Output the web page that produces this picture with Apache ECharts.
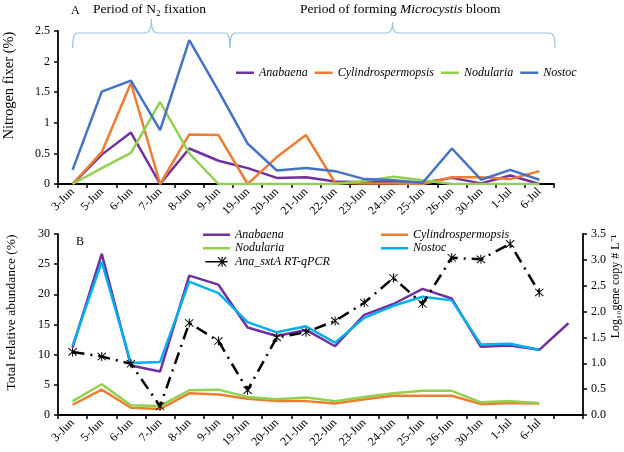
<!DOCTYPE html>
<html><head><meta charset="utf-8">
<script src="https://cdn.jsdelivr.net/npm/echarts/dist/echarts.min.js"></script>
<style>html,body{margin:0;padding:0;background:#fff}#c{width:624px;height:452px}</style>
</head><body><div id="c"></div>
<script>
// ---- data ----
const datesA = ['3-Jun','5-Jun','6-Jun','7-Jun','8-Jun','9-Jun','19-Jun','20-Jun','21-Jun','22-Jun','23-Jun','24-Jun','25-Jun','26-Jun','30-Jun','1-Jul','6-Jul'];
const datesB = datesA.concat(['']);
// Panel A: nitrogen fixer (%)
const fixAnabaena = [0, 0.48, 0.84, 0, 0.58, 0.38, 0.26, 0.10, 0.11, 0.04, 0.03, 0.04, 0.02, 0.10, 0.01, 0.14, 0];
const fixCylindro = [0, 0.52, 1.65, 0, 0.81, 0.80, 0, 0.44, 0.80, 0.02, 0.01, 0.01, 0, 0.11, 0.11, 0.08, 0.21];
const fixNodularia = [0, 0.26, 0.51, 1.34, 0.50, 0, 0, 0, 0, 0, 0.05, 0.12, 0.06, 0, 0, 0, 0];
const fixNostoc = [0.23, 1.51, 1.69, 0.88, 2.35, 1.52, 0.66, 0.22, 0.26, 0.21, 0.08, 0.06, 0.02, 0.58, 0.07, 0.23, 0.07];
// Panel B: total relative abundance (%)
const relAnabaena = [11.2, 26.7, 8.2, 7.2, 23.1, 21.6, 14.5, 13.1, 14.1, 11.4, 16.6, 18.4, 20.9, 19.3, 11.3, 11.5, 10.8, 15.2];
const relCylindro = [1.7, 4.2, 1.2, 1.0, 3.6, 3.4, 2.7, 2.3, 2.3, 1.9, 2.6, 3.2, 3.2, 3.2, 1.8, 2.0, 1.9];
const relNodularia = [2.3, 5.1, 1.6, 1.5, 4.1, 4.2, 3.0, 2.6, 2.9, 2.3, 3.0, 3.6, 4.0, 4.0, 2.1, 2.3, 2.0];
const relNostoc = [11.5, 25.4, 8.6, 8.8, 22.1, 20.2, 15.4, 13.7, 14.7, 12.0, 16.1, 18.1, 19.6, 19.0, 11.7, 11.8, 10.8];
// Panel B: Ana_sxtA RT-qPCR (log10 gene copy per L)
const qpcr = [1.22, 1.13, 0.99, 0.17, 1.78, 1.43, 0.48, 1.50, 1.60, 1.82, 2.17, 2.65, 2.15, 3.04, 3.01, 3.31, 2.37];

// ---- styling ----
const FONT = 'Liberation Serif';
const C_ANA = '#7030A0', C_CYL = '#ED7D31', C_NOD = '#92D050', C_NOS = '#4472C4', C_NOS2 = '#00B0F0';
const BRACE = '#9DC3E6';
const STAR = 'path://M9,0 L11,0 L11,20 L9,20 Z M1,2.4 L2.4,1 L19,17.6 L17.6,19 Z M17.6,1 L19,2.4 L2.4,19 L1,17.6 Z';
const ICON_A = 'path://M0,0 L36,0 L36,5 L0,5 Z';
const ICON_B = 'path://M0,0 L54,0 L54,5 L0,5 Z';
const ICON_STAR = 'path://M0,4.3 L20,4.3 L20,5.7 L0,5.7 Z M14.5,0.5 L15.5,0.5 L15.5,9.5 L14.5,9.5 Z M11,1.2 L11.7,0.5 L19,8.8 L18.3,9.5 Z M18.3,0.5 L19,1.2 L11.7,9.5 L11,8.8 Z';

const axisTxt = {color:'#000', fontFamily:FONT, fontSize:12};
function catAxis(grid, data){
  return {type:'category', gridIndex:grid, data:data, boundaryGap:true,
    axisLine:{show:true, lineStyle:{color:'#000', width:1.8}},
    axisTick:{show:true, alignWithLabel:false, length:4, lineStyle:{color:'#000', width:1.5}},
    axisLabel:Object.assign({rotate:45, margin:6, interval:0}, axisTxt),
    splitLine:{show:false}};
}
function valAxis(grid, min, max, itv, name, pos, gap, fmt, fs, shift){
  return {type:'value', gridIndex:grid, min:min, max:max, interval:itv, position:pos,
    name:name, nameLocation:'middle', nameGap:gap, nameRotate:90, nameMoveOverlap:false,
    nameTextStyle:{color:'#000', fontFamily:FONT, fontSize:fs, padding:[0,0,0,shift]},
    axisLine:{show:true, lineStyle:{color:'#000', width:1.8}},
    axisTick:{show:true, length:4, lineStyle:{color:'#000', width:1.5}},
    axisLabel:Object.assign({margin:8, formatter:fmt}, axisTxt),
    splitLine:{show:false}};
}
function ln(name, xi, yi, data, color, extra){
  return Object.assign({type:'line', name:name, xAxisIndex:xi, yAxisIndex:yi, data:data,
    symbol:'none', showSymbol:false, smooth:false, animation:false,
    lineStyle:{color:color, width:2.5}, itemStyle:{color:color}}, extra||{});
}
const legTxt = {fontFamily:FONT, fontSize:12, fontStyle:'italic', color:'#000', lineHeight:13.5};
const ttl = {fontFamily:FONT, fontSize:13.5, fontWeight:'normal', color:'#000'};

const chart = echarts.init(document.getElementById('c'), null, {renderer:'canvas'});
const option = {
  backgroundColor:'#fff',
  animation:false,
  title:[
    {text:'Period of N₂ fixation', left:93, top:2, padding:0, textStyle:ttl},
    {text:'Period of forming {i|Microcystis} bloom', left:300, top:2, padding:0,
      textStyle:Object.assign({rich:{i:{fontFamily:FONT, fontSize:13.5, fontStyle:'italic', color:'#000'}}}, ttl)},
    {text:'A', left:71, top:5, padding:0, textStyle:{fontFamily:FONT, fontSize:12, fontWeight:'normal', color:'#000'}},
    {text:'B', left:76, top:236, padding:0, textStyle:{fontFamily:FONT, fontSize:12, fontWeight:'normal', color:'#000'}}
  ],
  grid:[
    {left:58, right:70, top:31, height:153, containLabel:false, outerBoundsMode:'none'},
    {left:58, right:41, top:234, height:181, containLabel:false, outerBoundsMode:'none'}
  ],
  legend:[
    {data:[{name:'Anabaena',icon:ICON_A},{name:'Cylindrospermopsis',icon:ICON_A},{name:'Nodularia',icon:ICON_A},{name:'Nostoc',icon:ICON_A}],
      left:236, top:66, orient:'horizontal', padding:0,
      itemWidth:18, itemHeight:10, itemGap:7, textStyle:legTxt},
    {data:[{name:'Anabaena ',icon:ICON_B},{name:'Nodularia ',icon:ICON_B},{name:'Ana_sxtA RT-qPCR',icon:ICON_STAR}],
      left:203, top:228, orient:'vertical', padding:0,
      itemWidth:27, itemHeight:10, itemGap:0, formatter:n=>n.trim(), textStyle:legTxt},
    {data:[{name:'Cylindrospermopsis ',icon:ICON_B},{name:'Nostoc ',icon:ICON_B}],
      left:381, top:228, orient:'vertical', padding:0,
      itemWidth:27, itemHeight:10, itemGap:0, formatter:n=>n.trim(), textStyle:legTxt}
  ],
  xAxis:[catAxis(0, datesA), catAxis(1, datesB)],
  yAxis:[
    valAxis(0, 0, 2.5, 0.5, 'Nitrogen fixer (%)', 'left', 41, v=>String(v), 14.5, 44),
    valAxis(1, 0, 30, 5, 'Total relative abundance (%)', 'left', 40, v=>String(v), 13.5, 24),
    valAxis(1, 0, 3.5, 0.5, 'Log₁₀gene copy # L⁻¹', 'right', 27, v=>v.toFixed(1), 12, 76)
  ],
  series:[
    ln('Anabaena', 0, 0, fixAnabaena, C_ANA),
    ln('Cylindrospermopsis', 0, 0, fixCylindro, C_CYL),
    ln('Nodularia', 0, 0, fixNodularia, C_NOD),
    ln('Nostoc', 0, 0, fixNostoc, C_NOS),
    ln('Anabaena ', 1, 1, relAnabaena, C_ANA),
    ln('Cylindrospermopsis ', 1, 1, relCylindro, C_CYL),
    ln('Nodularia ', 1, 1, relNodularia, C_NOD),
    ln('Nostoc ', 1, 1, relNostoc, C_NOS2),
    ln('Ana_sxtA RT-qPCR', 1, 2, qpcr, '#000', {
      symbol:STAR, showSymbol:true, symbolSize:9,
      lineStyle:{color:'#000', width:2.5, type:[12,6,2,6]},
      itemStyle:{color:'#000'}})
  ]
};
chart.setOption(option);

// Braces above panel A (decoration), anchored to the category axis
function bx(i){ return chart.convertToPixel({xAxisIndex:0}, i); }
const band = bx(1) - bx(0);
const xL = bx(0), xM = bx(5) + band/2 - 3, xR = bx(16) + band/2 + 1;
const yH = 33, yE = 48;
function quad(pts, p0, c, p1){
  for (let k = 1; k <= 8; k++){
    const t = k/8, u = 1-t;
    pts.push([u*u*p0[0] + 2*u*t*c[0] + t*t*p1[0], u*u*p0[1] + 2*u*t*c[1] + t*t*p1[1]]);
  }
}
function brace(a, b, tipY){
  const p = (a + b) / 2, pts = [[a, yE]];
  quad(pts, [a, yE], [a, yH], [a+5, yH]);
  pts.push([p-6, yH]);
  quad(pts, [p-6, yH], [p, yH], [p, tipY]);
  quad(pts, [p, tipY], [p, yH], [p+6, yH]);
  pts.push([b-5, yH]);
  quad(pts, [b-5, yH], [b, yH], [b, yE]);
  return pts;
}
chart.setOption({graphic:[
  {type:'polyline', shape:{points:brace(xL, xM, 19)}, style:{fill:null, stroke:BRACE, lineWidth:1.2}, silent:true},
  {type:'polyline', shape:{points:brace(xM, xR, 22)}, style:{fill:null, stroke:BRACE, lineWidth:1.2}, silent:true}
]});
</script>
</body></html>
